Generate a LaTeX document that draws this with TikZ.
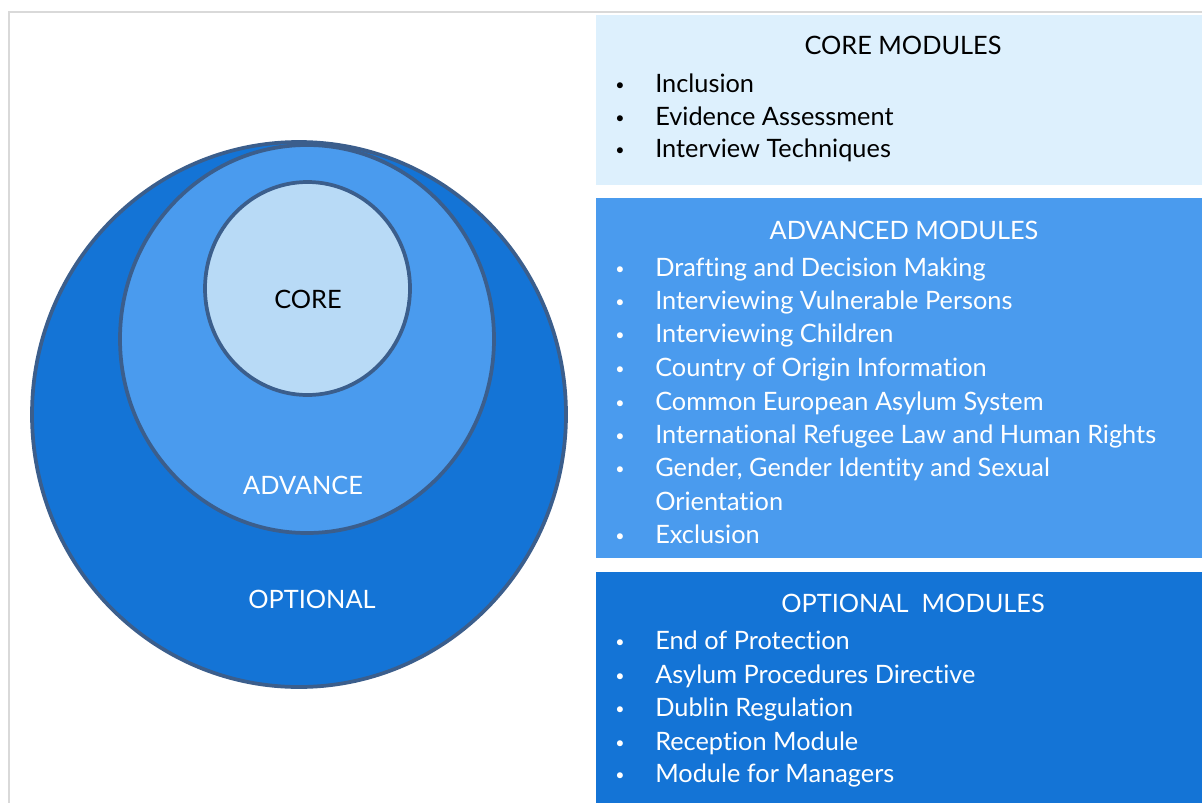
\documentclass[tikz,border=0pt]{standalone}
\usepackage{fontspec}
\setmainfont{Lato}[Ligatures=NoCommon]
\usetikzlibrary{shapes.geometric}
\definecolor{optblue}{RGB}{20,116,214}
\definecolor{advblue}{RGB}{74,155,238}
\definecolor{coreblue}{RGB}{184,218,246}
\definecolor{corepale}{RGB}{221,240,253}
\definecolor{ringedge}{RGB}{59,94,140}
\definecolor{framegray}{RGB}{217,217,217}

\begin{document}
\begin{tikzpicture}[x=0.75pt, y=-0.75pt,
        ring/.style={ellipse, draw=ringedge, line width=2.8pt, inner sep=0pt},
        panel/.style={rectangle, draw=none, inner sep=0pt, anchor=north west, minimum width=454.5pt},
        txt/.style={inner sep=0pt, font=\fontsize{19}{24}\selectfont},
        head/.style={txt, anchor=base},
        item/.style={txt, anchor=base west,
            execute at begin node={\llap{\raisebox{1.5pt}{\fontsize{12}{12}\selectfont\textbullet}\hspace{23pt}}}}]
        \useasboundingbox (0,0) rectangle (1202,803);
        % frame
        \coordinate (f1) at (1202,12);
        \coordinate (f2) at (9,12);
        \coordinate (f3) at (9,803);
        \draw[framegray, line width=0.9pt] (f1) -- (f2) -- (f3);

        % rings
        \node[ring, fill=optblue, minimum width=400.5pt, minimum height=408.75pt] (optring) at (299,414.5) {};
        \node[ring, fill=advblue, minimum width=280.5pt, minimum height=291pt] (advring) at (307,339) {};
        \node[ring, fill=coreblue, minimum width=153.75pt, minimum height=159.75pt] (corering) at (307.5,288.5) {};
        \node[head] (corelbl) at (308,308) {CORE};
        \node[head, white] (advlbl) at (303,494) {ADVANCE};
        \node[head, white] (optlbl) at (312,608) {OPTIONAL};

        % panels
        \node[panel, fill=corepale, minimum height=127.5pt] (corebox) at (596,15) {};
        \node[panel, fill=advblue, minimum height=270pt] (advbox) at (596,197.7) {};
        \node[panel, fill=optblue, minimum height=173.5pt] (optbox) at (596,571.7) {};

        \node[head] (corehead) at (903,54) {CORE MODULES};
        \node[item] (c1) at (655,92) {Inclusion};
        \node[item] (c2) at (655,125) {Evidence Assessment};
        \node[item] (c3) at (655,157) {Interview Techniques};

        \begin{scope}[white]
        \node[head] (advhead) at (904,239) {ADVANCED MODULES};
        \node[item] (a1) at (655,276) {Drafting and Decision Making};
        \node[item] (a2) at (655,309) {Interviewing Vulnerable Persons};
        \node[item] (a3) at (655,342) {Interviewing Children};
        \node[item] (a4) at (655,376) {Country of Origin Information};
        \node[item] (a5) at (655,410) {Common European Asylum System};
        \node[item] (a6) at (655,443) {International Refugee Law and Human Rights};
        \node[item] (a7) at (655,476) {Gender, Gender Identity and Sexual};
        \node[txt, anchor=base west] (a7b) at (655,510) {Orientation};
        \node[item] (a8) at (655,543) {Exclusion};

        \node[head] (opthead) at (913,612) {OPTIONAL\ \ MODULES};
        \node[item] (o1) at (655,649) {End of Protection};
        \node[item] (o2) at (655,683) {Asylum Procedures Directive};
        \node[item] (o3) at (655,716) {Dublin Regulation};
        \node[item] (o4) at (655,750) {Reception Module};
        \node[item] (o5) at (655,782) {Module for Managers};
        \end{scope}
\end{tikzpicture}
\end{document}
